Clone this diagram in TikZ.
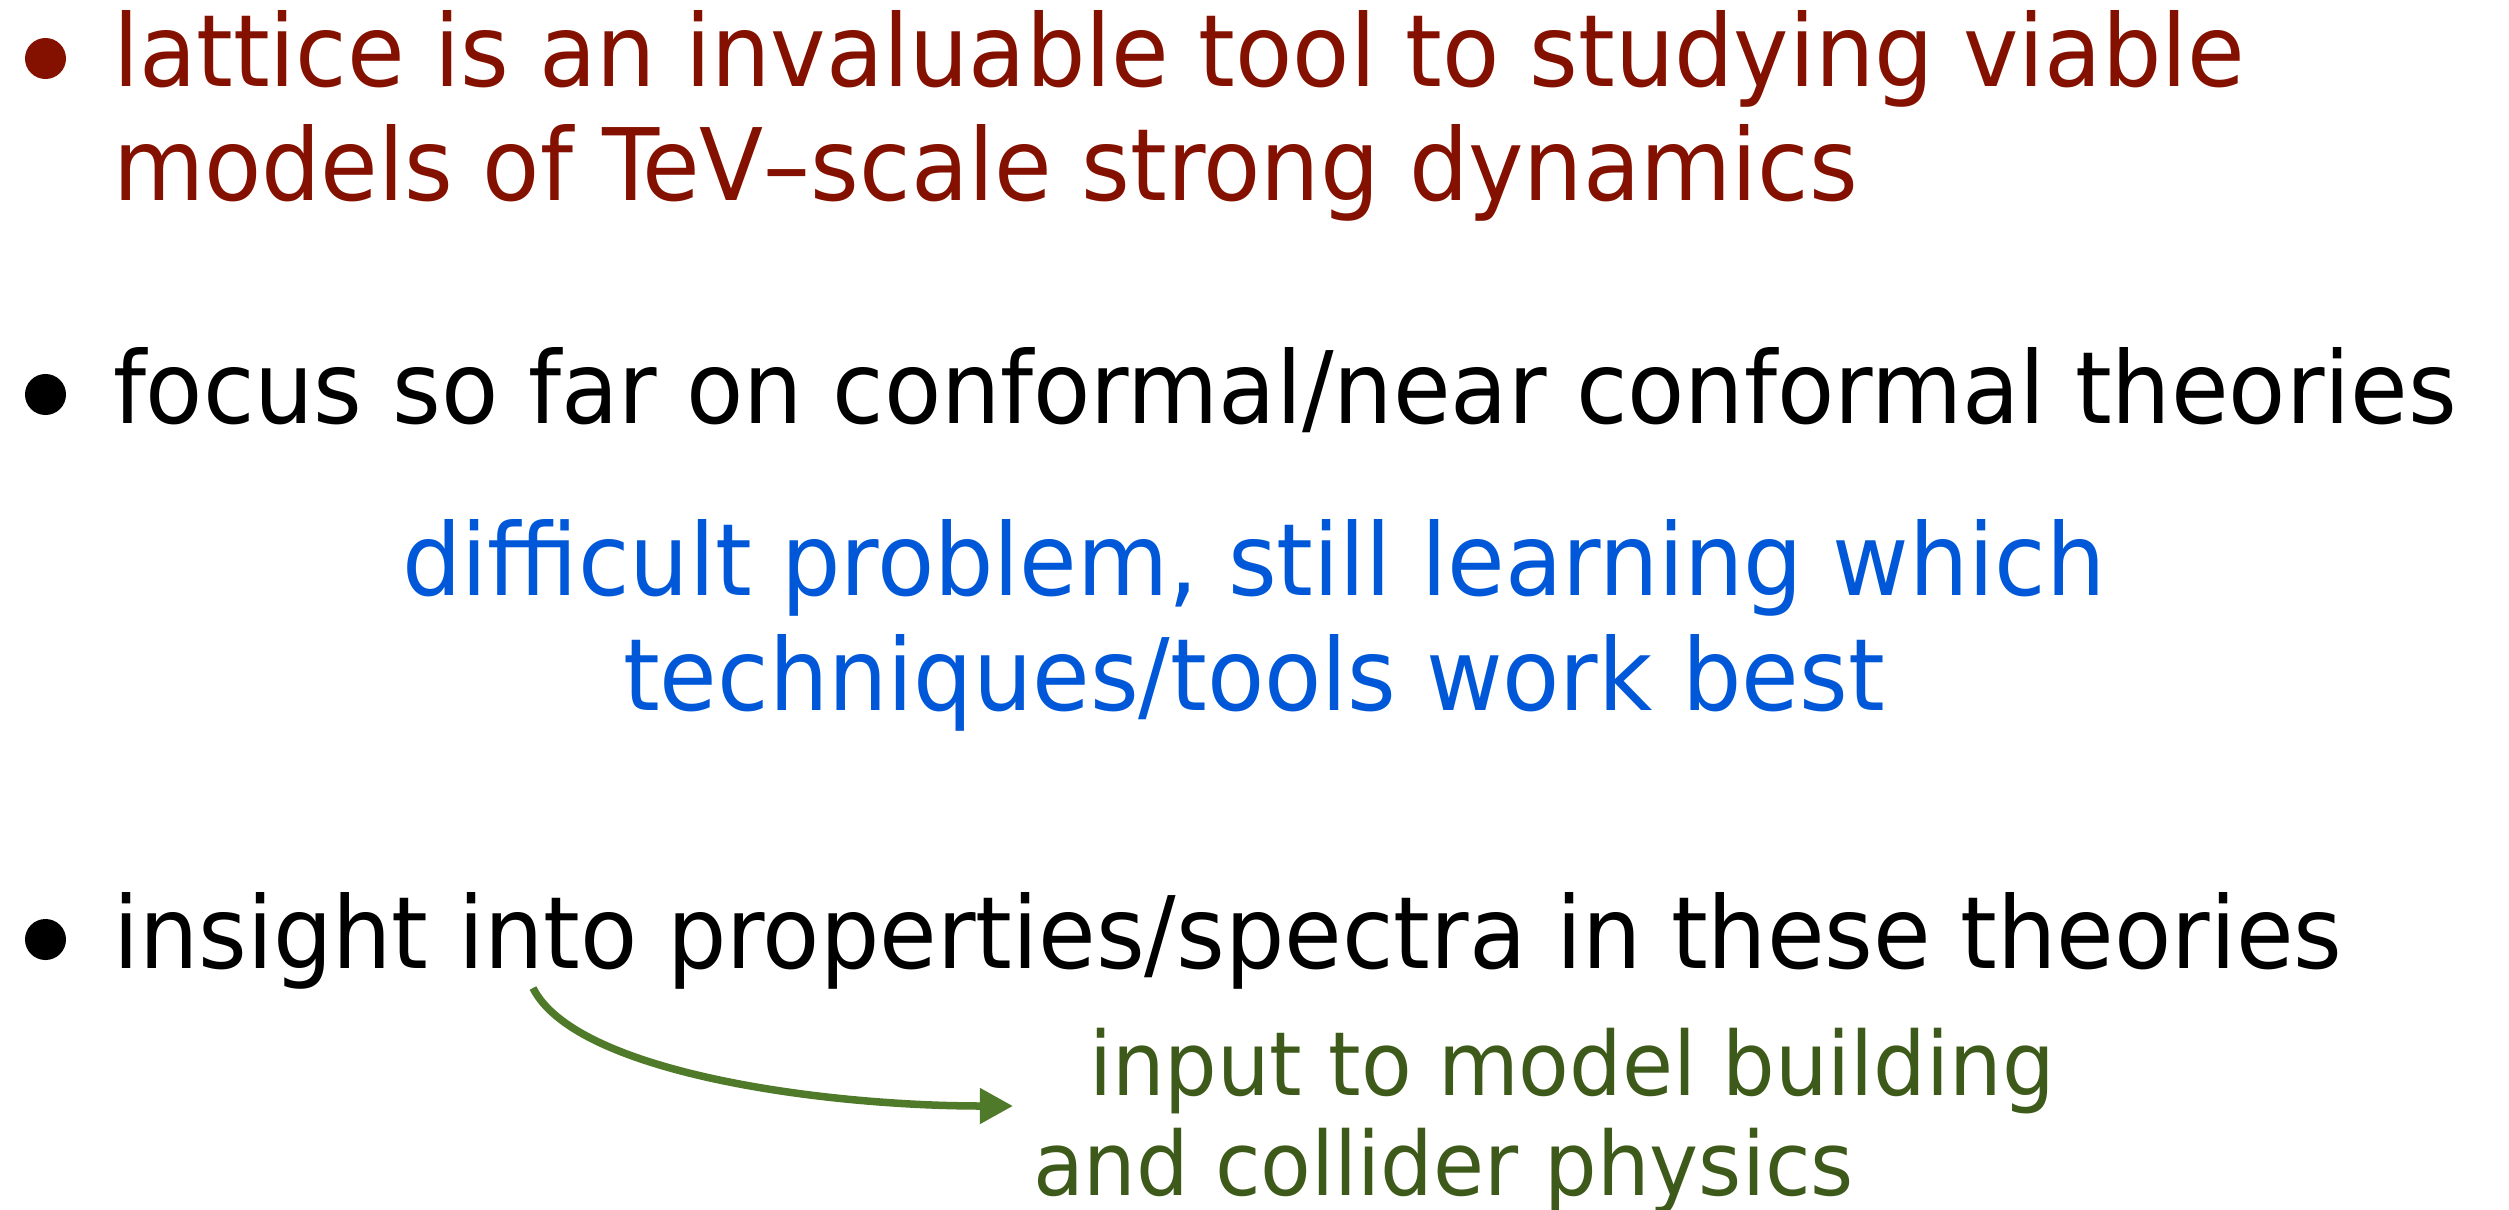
\documentclass[tikz,border=0pt]{standalone}
\usepackage{fontspec}
\setmainfont{DejaVu Sans Condensed}[FakeStretch=1.04]
\usepackage{xcolor}
\usetikzlibrary{positioning}
\usetikzlibrary{arrows.meta}
\definecolor{darkred}{HTML}{841100}
\definecolor{slideblue}{HTML}{0058D8}
\definecolor{darkolive}{HTML}{3D5A1A}
\definecolor{arrowgreen}{HTML}{4E7A2A}
\tikzset {
  % one node for every line of slide text
  txtline/.style = {inner sep=0pt, outer sep=0pt, font=\fontsize{28.45pt}{34pt}\selectfont},
  % round bullet in front of an item
  dot/.style = {circle, fill, inner sep=0pt, minimum size=0.41cm},
  % the comment under the second item
  remark/.style = {txtline, slideblue, anchor=base},
  % the outcome under the last item, a bit smaller
  outcome/.style = {txtline, darkolive, anchor=base west, font=\fontsize{25.2pt}{30pt}\selectfont},
  curvedarrow/.style = {arrowgreen, line width=0.075cm, -{Triangle[length=0.33cm, width=0.34cm]}},
}

\begin{document}
\begin{tikzpicture}[x=0.01cm, y=-0.01cm]
        \useasboundingbox (0,0) rectangle (2509,1209);

        % first item
        \node[dot, darkred] (b1) at (45.5,58.5) {};
        \node[txtline, darkred, anchor=base west] (l1) at (113,87) {lattice is an invaluable tool to studying viable};
        \node[txtline, darkred, anchor=base west] (l2) at (113,200) {models of TeV--scale strong dynamics};

        % second item
        \node[dot] (b2) at (45.5,394.5) {};
        \node[txtline, anchor=base west] (f1) at (113,423) {focus so far on conformal/near conformal theories};
        \node[remark] (r1) at (1254,595) {difficult problem, still learning which};
        \node[remark] (r2) at (1254,710) {techniques/tools work best};

        % third item
        \node[dot] (b3) at (45.5,939.5) {};
        \node[txtline, anchor=base west] (i1) at (113,968) {insight into properties/spectra in these theories};
        \node[outcome] (o1) at (1089,1095) {input to model building};
        \node[outcome] (o2) at (1033,1195) {and collider physics};

        \coordinate (from) at (533,988);
        \coordinate (to) at (1013,1106);
        \draw[curvedarrow] (from) .. controls (575,1072) and (820,1106) .. (to);
\end{tikzpicture}
\end{document}
